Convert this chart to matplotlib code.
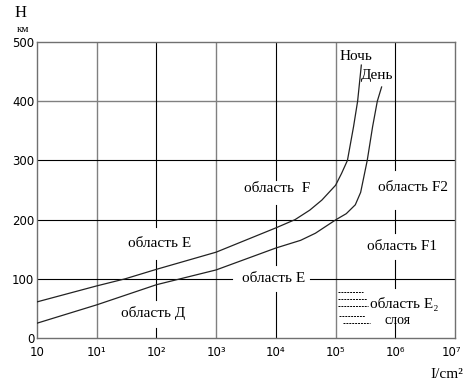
import matplotlib
matplotlib.use('Agg')  # no display
import matplotlib.pyplot as plt
from matplotlib.transforms import ScaledTranslation

# --- DATA ---
heights = [0, 100, 200, 300, 400, 500]
intensity_ticks = [1, 10, 100, 1e3, 1e4, 1e5, 1e6, 1e7]
intensity_labels = ['10', '10¹', '10²', '10³', '10⁴', '10⁵', '10⁶', '10⁷']

# night curve (upper one)
night_I = [1, 10, 30, 100, 1e3, 1e4, 2.1e4, 3.7e4, 5.9e4, 1e5, 1.26e5, 1.58e5, 2.0e5, 2.34e5, 2.7e5]
night_H = [61, 88, 100, 116, 145, 186, 200, 216, 233, 258, 278, 300, 357, 400, 461]

# day curve (lower one)
day_I = [1, 10, 100, 1e3, 1e4, 2.6e4, 4.6e4, 1.02e5, 1.51e5, 2.14e5, 2.63e5, 3.39e5, 4.17e5, 5.0e5, 5.9e5]
day_H = [25, 56, 90, 115, 152, 165, 177, 200, 210, 225, 246, 300, 357, 400, 424]

GREY = '#808080'
SERIF = ['Liberation Serif', 'DejaVu Serif']


def dec(p):
    """position given as decade number -> intensity value"""
    return 10 ** p


fig = plt.figure(figsize=(4.64, 3.85), dpi=100)
ax = fig.add_axes([37 / 464, 47 / 385, 418 / 464, 296 / 385])
ax.set_xscale('log')
ax.set_xlim(1, 1e7)
ax.set_ylim(0, 500)

for s in ax.spines.values():
    s.set_color('#707070')
    s.set_linewidth(1.0)

# grey grid lines
for x in [10, 1e3, 1e5]:
    ax.axvline(x, color=GREY, lw=1.0, zorder=1)
ax.axhline(400, color=GREY, lw=1.0, zorder=1)

# black grid lines, with gaps left for the labels
ax.axhline(200, color='black', lw=0.8, zorder=1)
ax.axhline(300, color='black', lw=0.8, zorder=1)
ax.plot([1, dec(3.27)], [100, 100], color='black', lw=0.8, zorder=1)
ax.plot([dec(4.57), 1e7], [100, 100], color='black', lw=0.8, zorder=1)

v_segments = {
    100: [(0, 17), (64, 132), (187, 500)],
    1e4: [(0, 78), (123, 225), (267, 500)],
    1e6: [(0, 30), (84, 132), (177, 216), (284, 500)],
}
for x, segs in v_segments.items():
    for lo, hi in segs:
        ax.plot([x, x], [lo, hi], color='black', lw=0.8, zorder=1)

# curves
ax.plot(night_I, night_H, color='#222222', lw=0.9, zorder=3)
ax.plot(day_I, day_H, color='#222222', lw=0.9, zorder=3)

# short dashed strokes near the E2 label
dash_rows = [(5.04, 5.46, 78), (5.04, 5.53, 66), (5.04, 5.54, 54),
             (5.06, 5.49, 37), (5.13, 5.58, 25)]
for p0, p1, h in dash_rows:
    ax.plot([dec(p0), dec(p1)], [h, h], color='black', lw=0.7,
            linestyle=(0, (2, 1)), zorder=2)

# region labels
labels = [
    ('Ночь', 5.34, 476, 11),
    ('День', 5.70, 443, 11),
    ('область  F', 4.02, 252, 11),
    ('область F2', 6.30, 255, 11),
    ('область E', 2.06, 160, 11),
    ('область F1', 6.11, 155, 11),
    ('область E', 3.97, 101, 11),
    ('область Д', 1.94, 42, 11),
    ('область E₂', 6.15, 57, 11),
    ('слоя', 6.03, 30, 10),
]
for txt, p, h, fs in labels:
    ax.text(dec(p), h, txt, family=SERIF, fontsize=fs, ha='center', va='center', zorder=4)

# ticks
ax.set_xticks(intensity_ticks)
ax.set_xticklabels(intensity_labels)
ax.minorticks_off()
ax.set_yticks(heights)
ax.tick_params(axis='both', length=0, labelsize=8.5, colors='black')
ax.tick_params(axis='x', pad=6)
ax.tick_params(axis='y', pad=2)
last = ax.get_xticklabels()[-1]
last.set_transform(last.get_transform() + ScaledTranslation(-4 / 100, 0, fig.dpi_scale_trans))

# axis captions
fig.text(21 / 464, 1 - 13 / 385, 'H', family=SERIF, fontsize=12, ha='center', va='center')
fig.text(23 / 464, 1 - 29 / 385, 'км', family=SERIF, fontsize=8, ha='center', va='center')
fig.text(463 / 464, 1 - 375 / 385, 'I/cm²', family=SERIF, fontsize=11, ha='right', va='center')

plt.savefig('out.png', dpi=100)
plt.close()
